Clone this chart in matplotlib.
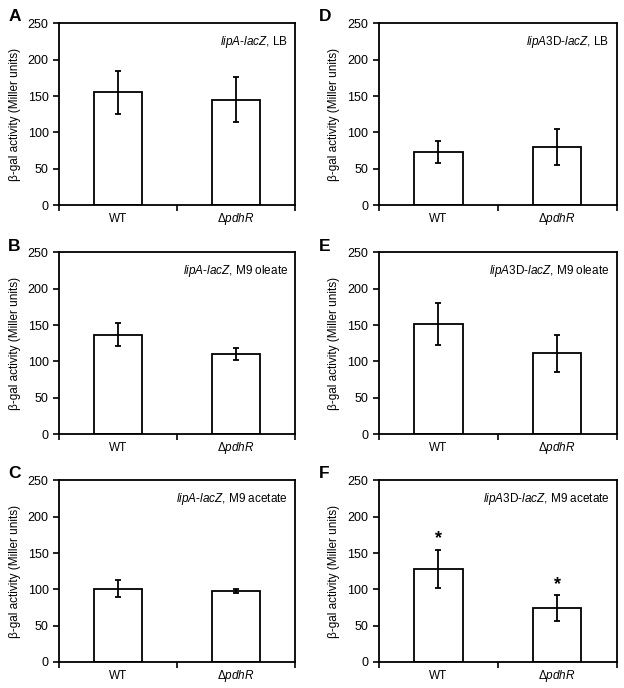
import matplotlib.pyplot as plt

plt.rcParams['font.family'] = ['Liberation Sans', 'DejaVu Sans']
plt.rcParams['mathtext.fontset'] = 'custom'
plt.rcParams['mathtext.rm'] = 'Liberation Sans'
plt.rcParams['mathtext.it'] = 'Liberation Sans:italic'

strains = ['WT', r'Δ$\it{pdhR}$']
panel_letters = ['A', 'B', 'C', 'D', 'E', 'F']
panel_notes = [
    r'$\it{lipA}$-$\it{lacZ}$, LB',
    r'$\it{lipA}$-$\it{lacZ}$, M9 oleate',
    r'$\it{lipA}$-$\it{lacZ}$, M9 acetate',
    r'$\it{lipA}$3D-$\it{lacZ}$, LB',
    r'$\it{lipA}$3D-$\it{lacZ}$, M9 oleate',
    r'$\it{lipA}$3D-$\it{lacZ}$, M9 acetate',
]
means = [
    [155, 145],
    [137, 110],
    [101, 98],
    [73, 80],
    [151, 111],
    [128, 74],
]
errors = [
    [30, 31],
    [16, 8.5],
    [12, 3],
    [15.5, 25],
    [29, 26],
    [26.5, 18],
]
significant = [False, False, False, False, False, True]
yticks = [0, 50, 100, 150, 200, 250]

fig = plt.figure(figsize=(6.24, 6.88), dpi=100)

lefts = [0.0946, 0.0946, 0.0946, 0.607, 0.607, 0.607]
bottoms = [0.702, 0.369, 0.0378, 0.702, 0.369, 0.0378]
width_l, width_r = 0.378, 0.381
height = 0.264

for i in range(6):
    w = width_l if i < 3 else width_r
    ax = fig.add_axes([lefts[i], bottoms[i], w, height])
    x = range(len(strains))
    ax.bar(x, means[i], width=0.41, color='white', edgecolor='black',
           linewidth=1.3, zorder=2)
    ax.errorbar(x, means[i], yerr=errors[i], fmt='none', ecolor='black',
                elinewidth=1.3, capsize=2, capthick=1.3, zorder=3)
    if significant[i]:
        for xi, m, e in zip(x, means[i], errors[i]):
            ax.text(xi, m + e + 3, '*', ha='center', va='bottom',
                    fontsize=13, fontweight='bold')
    ax.set_xlim(-0.5, 1.5)
    ax.set_ylim(0, 250)
    ax.set_yticks(yticks)
    ax.set_xticks(list(x))
    ax.set_xticklabels(strains, fontsize=8.5)
    for lbl in ax.get_xticklabels():
        lbl.set_verticalalignment('baseline')
    ax.set_xticks([-0.5, 0.5, 1.5], minor=True)
    ax.tick_params(axis='x', which='major', length=0, pad=12)
    ax.tick_params(axis='x', which='minor', length=4, width=1.2,
                   direction='out')
    ax.tick_params(axis='y', length=4, width=1.2, direction='out',
                   labelsize=9)
    for s in ax.spines.values():
        s.set_linewidth(1.3)
    ax.set_ylabel('β-gal activity (Miller units)', fontsize=8.5, labelpad=5)
    ax.text(0.97, 0.94, panel_notes[i], transform=ax.transAxes,
            ha='right', va='top', fontsize=8.5)
    letter_x = -0.216 if i < 3 else -0.25
    ax.text(letter_x, 1.077, panel_letters[i], transform=ax.transAxes,
            ha='left', va='top', fontsize=12.5, fontweight='bold')

fig.savefig('out.png', dpi=100)
